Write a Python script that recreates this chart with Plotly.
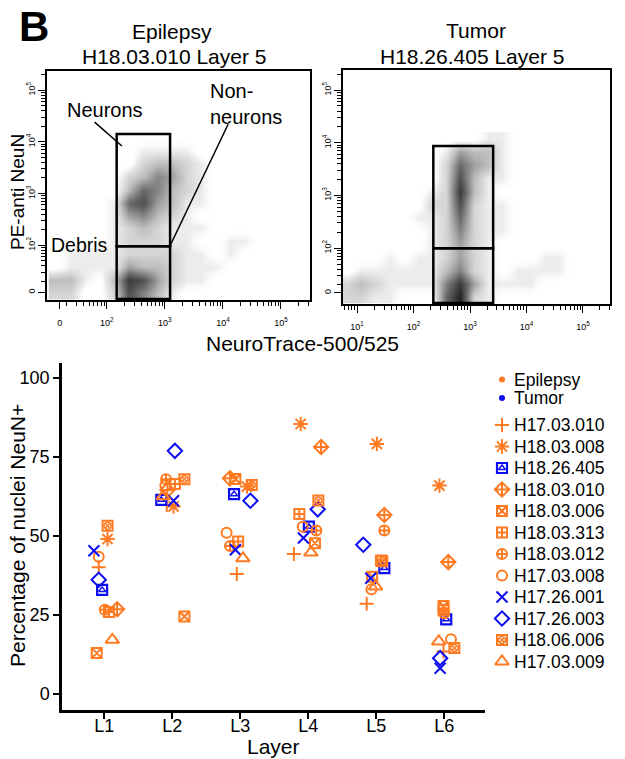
import numpy as np
import plotly.graph_objects as go

FONT = "Liberation Sans, Arial, Helvetica, sans-serif"
ORANGE = "#FF7A21"
BLUE = "#0C0CF2"
W, H = 625, 759          # target picture
OFF = 8                  # page body margin of the browser
FW, FH = W - OFF, H - OFF

# ---------------- bottom panel data ----------------
layer_labels = ["L1", "L2", "L3", "L4", "L5", "L6"]
pct_ticks = [0, 25, 50, 75, 100]
group_names = ["Epilepsy", "Tumor"]

sample_names = ["H17.03.010", "H18.03.008", "H18.26.405", "H18.03.010",
                "H18.03.006", "H18.03.313", "H18.03.012", "H17.03.008",
                "H17.26.001", "H17.26.003", "H18.06.006", "H17.03.009"]
sample_groups = ["Epilepsy", "Epilepsy", "Tumor", "Epilepsy",
                 "Epilepsy", "Epilepsy", "Epilepsy", "Epilepsy",
                 "Tumor", "Tumor", "Epilepsy", "Epilepsy"]

# jittered layer positions (1 = L1 ... 6 = L6) and % NeuN+ per sample
pos_H17_03_010 = [0.92, 1.92, 2.95, 3.79, 4.86, 5.99]
pct_H17_03_010 = [40.1, 59.8, 37.9, 44.3, 28.5, 13.4]
pos_H18_03_008 = [1.05, 2.02, 3.10, 3.89, 5.01, 5.93]
pct_H18_03_008 = [49.0, 59.3, 65.6, 85.4, 79.1, 65.9]
pos_H18_26_405 = [0.97, 1.84, 2.91, 4.01, 5.12, 6.03]
pct_H18_26_405 = [32.9, 61.4, 63.2, 52.9, 39.8, 23.6]
pos_H18_03_010 = [1.19, 1.93, 2.85, 4.19, 5.12, 6.06]
pct_H18_03_010 = [26.8, 64.5, 68.2, 78.1, 56.6, 41.7]
pos_H18_03_006 = [0.89, 2.18, 2.93, 4.10, 4.94, 5.99]
pct_H18_03_006 = [12.9, 24.5, 68.0, 47.7, 37.1, 27.8]
pos_H18_03_313 = [1.07, 2.04, 2.97, 3.87, 5.07, 5.99]
pct_H18_03_313 = [25.9, 66.4, 48.2, 56.9, 42.2, 26.5]
pos_H18_03_012 = [1.01, 1.91, 2.85, 4.12, 5.12, 6.00]
pct_H18_03_012 = [26.6, 67.9, 46.8, 51.7, 51.7, 25.5]
pos_H17_03_008 = [0.92, 1.90, 2.80, 3.92, 4.93, 6.10]
pct_H17_03_008 = [43.4, 66.0, 51.0, 52.9, 33.1, 17.3]
pos_H17_26_001 = [0.85, 2.02, 2.93, 3.93, 4.92, 5.94]
pct_H17_26_001 = [45.3, 61.1, 45.6, 49.3, 36.6, 8.1]
pos_H17_26_003 = [0.92, 2.04, 3.15, 4.14, 4.81, 5.94]
pct_H17_26_003 = [36.1, 76.9, 61.1, 58.4, 47.2, 11.3]
pos_H18_06_006 = [1.05, 2.18, 3.17, 4.15, 5.09, 6.15]
pct_H18_06_006 = [53.2, 67.9, 66.1, 61.2, 42.0, 14.5]
pos_H17_03_009 = [1.12, 1.87, 3.04, 4.04, 4.99, 5.92]
pct_H17_03_009 = [17.1, 62.5, 42.9, 44.7, 34.0, 16.6]

sample_pos = [pos_H17_03_010, pos_H18_03_008, pos_H18_26_405, pos_H18_03_010,
              pos_H18_03_006, pos_H18_03_313, pos_H18_03_012, pos_H17_03_008,
              pos_H17_26_001, pos_H17_26_003, pos_H18_06_006, pos_H17_03_009]
sample_pct = [pct_H17_03_010, pct_H18_03_008, pct_H18_26_405, pct_H18_03_010,
              pct_H18_03_006, pct_H18_03_313, pct_H18_03_012, pct_H17_03_008,
              pct_H17_26_001, pct_H17_26_003, pct_H18_06_006, pct_H17_03_009]

# ---------------- flow cytometry panels (density) ----------------
# display units: decades of the (biexponential) axes; rows bottom -> top, digits = dot density 0-9
epi_x0, epi_y0, bin_w = 1.0, 0.95, 0.25
epi_density = [
    "220027531000000",
    "331038742110000",
    "011114332111000",
    "011112222110100",
    "000012221100110",
    "000012321110000",
    "000014532100000",
    "000016743110000",
    "000003653210000",
    "000002354210000",
    "000000233210000",
    "000000111100000",
    "000000000000000",
]
tum_x0, tum_y0 = 0.7, 0.95
tum_density = [
    "22110006921000000",
    "23211115841111000",
    "01111113521011110",
    "00010112421000110",
    "00000012421000000",
    "00000012521100000",
    "00000112621100000",
    "00000022721100000",
    "00000012831000000",
    "00000002731100000",
    "00000002643100000",
    "00000001433100000",
    "00000000001100000",
]
epi_gate_x = [2.17, 3.09]
epi_gate_y = [0.96, 1.98, 4.15]
tum_gate_x = [2.35, 3.41]
tum_gate_y = [0.96, 2.00, 3.94]

epi_xtick_pos = [1.19, 2, 3, 4, 5]
epi_ytick_pos = [1.09, 2, 3, 4, 5]
tum_xtick_pos = [1, 2, 3, 4, 5]
tum_ytick_pos = [1.15, 2, 3, 4, 5]
epi_tick_text = ["0", "10<sup>2</sup>", "10<sup>3</sup>", "10<sup>4</sup>", "10<sup>5</sup>"]
tum_xtick_text = ["10<sup>1</sup>", "10<sup>2</sup>", "10<sup>3</sup>", "10<sup>4</sup>", "10<sup>5</sup>"]


def P(px, py):
    """picture pixel -> paper fraction of the figure (figure sits OFF px inside the page)."""
    return (px - OFF) / FW, 1 - (py - OFF) / FH


def minor_vals(lo, hi, decades):
    v = []
    for d in decades:
        for m in range(2, 10):
            t = d + np.log10(m)
            if lo < t < hi:
                v.append(float(t))
    return v


fig = go.Figure()

gray_scale = [[0.0, "rgba(255,255,255,0)"], [0.11, "rgb(236,236,236)"],
              [0.33, "rgb(190,190,190)"], [0.66, "rgb(105,105,105)"], [1.0, "rgb(35,35,35)"]]

fig.add_trace(go.Heatmap(z=[[int(c) for c in r] for r in epi_density],
                         x0=epi_x0 + bin_w / 2, dx=bin_w, y0=epi_y0 + bin_w / 2, dy=bin_w,
                         zmin=0, zmax=9, zsmooth="best", colorscale=gray_scale,
                         showscale=False, xaxis="x", yaxis="y", hoverinfo="skip"))
fig.add_trace(go.Heatmap(z=[[int(c) for c in r] for r in tum_density],
                         x0=tum_x0 + bin_w / 2, dx=bin_w, y0=tum_y0 + bin_w / 2, dy=bin_w,
                         zmin=0, zmax=9, zsmooth="best", colorscale=gray_scale,
                         showscale=False, xaxis="x2", yaxis="y2", hoverinfo="skip"))

# ---------------- scatter markers ----------------
marker_specs = [
    [("cross-thin-open", 10, 2.0)],
    [("asterisk-open", 12, 2.0)],
    [("square-open", 10, 2.2), ("triangle-up-open", 6, 1.5)],
    [("diamond-cross-open", 11, 2.0)],
    [("square-x-open", 10, 2.0)],
    [("square-cross-open", 10, 2.0)],
    [("circle-cross-open", 10, 2.0)],
    [("circle-open", 10, 2.0)],
    [("x-thin-open", 11, 2.0)],
    [("diamond-open", 11, 2.0)],
    [("square-open", 10, 2.0), ("circle-x-open", 7, 1.5)],
    [("triangle-up-open", 12, 2.0)],
]
group_color = {"Epilepsy": ORANGE, "Tumor": BLUE}

for name, grp, xs, ys, spec in zip(sample_names, sample_groups, sample_pos, sample_pct, marker_specs):
    col = group_color[grp]
    for sym, size, lw in spec:
        fig.add_trace(go.Scatter(x=xs, y=ys, mode="markers", name=name, showlegend=False,
                                 marker=dict(symbol=sym, size=size, color=col,
                                             line=dict(color=col, width=lw)),
                                 xaxis="x3", yaxis="y3"))

# ---------------- manual legend (auxiliary axis in picture-pixel units) ----------------
leg_left, leg_top = 490, 345
leg_x_marker, leg_x_text = 12, 23
grp_y0, grp_step = 379.5, 18.5
smp_y0, smp_step = 425, 21.5
for i, g in enumerate(group_names):
    yy = grp_y0 + i * grp_step
    fig.add_trace(go.Scatter(x=[leg_x_marker], y=[yy], mode="markers", showlegend=False,
                             marker=dict(symbol="circle", size=6, color=group_color[g]),
                             xaxis="x4", yaxis="y4", hoverinfo="skip"))
    fig.add_annotation(x=leg_x_text, y=yy, xref="x4", yref="y4", text=g, showarrow=False,
                       xanchor="left", yanchor="middle", font=dict(size=17.5, color="black"),
                       borderpad=0)
for i, (name, grp, spec) in enumerate(zip(sample_names, sample_groups, marker_specs)):
    yy = smp_y0 + i * smp_step
    col = group_color[grp]
    for sym, size, lw in spec:
        fig.add_trace(go.Scatter(x=[leg_x_marker], y=[yy], mode="markers", showlegend=False,
                                 marker=dict(symbol=sym, size=size, color=col,
                                             line=dict(color=col, width=lw)),
                                 xaxis="x4", yaxis="y4", hoverinfo="skip"))
    fig.add_annotation(x=leg_x_text, y=yy, xref="x4", yref="y4", text=name, showarrow=False,
                       xanchor="left", yanchor="middle", font=dict(size=17.5, color="black"),
                       borderpad=0)

# ---------------- axes ----------------
flow_common = dict(showline=True, mirror=True, linecolor="black", linewidth=1.5,
                   ticks="outside", ticklen=7, tickwidth=1, tickcolor="black",
                   showgrid=False, zeroline=False, tickmode="array",
                   tickfont=dict(size=9, color="black"), automargin=False, fixedrange=True)
minor_common = dict(tickmode="array", ticklen=4, ticks="outside", tickcolor="black", tickwidth=1)

epi_xr = [0.97, 5.5]
epi_yr = [0.94, 5.37]
tum_xr = [0.75, 5.48]
tum_yr = [0.94, 5.38]

x0p, _ = P(47, 0); x1p, _ = P(310, 0)
_, yt = P(0, 71); _, yb = P(0, 300)
fig.update_layout(
    xaxis=dict(domain=[x0p, x1p], range=epi_xr, anchor="y", tickvals=epi_xtick_pos,
               ticktext=epi_tick_text, ticklabelstandoff=6,
               minor=dict(tickvals=minor_vals(1.19, 5.5, [1, 2, 3, 4, 5]), **minor_common),
               **flow_common),
    yaxis=dict(domain=[yb, yt], range=epi_yr, anchor="x", tickvals=epi_ytick_pos,
               ticktext=epi_tick_text, tickangle=-90, ticklabelstandoff=0,
               minor=dict(tickvals=minor_vals(1.09, 5.37, [1, 2, 3, 4, 5]), **minor_common),
               **flow_common),
)
x0p, _ = P(343, 0); x1p, _ = P(610, 0)
_, yt = P(0, 70); _, yb = P(0, 304)
fig.update_layout(
    xaxis2=dict(domain=[x0p, x1p], range=tum_xr, anchor="y2", tickvals=tum_xtick_pos,
                ticktext=tum_xtick_text, ticklabelstandoff=6,
                minor=dict(tickvals=minor_vals(0.75, 5.48, [0, 1, 2, 3, 4, 5]), **minor_common),
                **flow_common),
    yaxis2=dict(domain=[yb, yt], range=tum_yr, anchor="x2", tickvals=tum_ytick_pos,
                ticktext=epi_tick_text, tickangle=-90, ticklabelstandoff=0,
                minor=dict(tickvals=minor_vals(1.15, 5.38, [1, 2, 3, 4, 5]), **minor_common),
                **flow_common),
)

x0p, _ = P(62, 0); x1p, _ = P(485, 0)
_, yt = P(0, 363); _, yb = P(0, 710)
main_common = dict(showline=True, linecolor="black", linewidth=2.5, ticks="outside",
                   ticklen=6, tickwidth=2, tickcolor="black", showgrid=False, zeroline=False,
                   tickfont=dict(size=18, color="black"), automargin=False, fixedrange=True,
                   tickmode="array")
lx0, _ = P(leg_left, 0)
_, ly1 = P(0, leg_top)
fig.update_layout(
    xaxis3=dict(domain=[x0p, x1p], range=[0.38, 6.6], anchor="y3",
                tickvals=list(range(1, len(layer_labels) + 1)), ticktext=layer_labels,
                ticklabelstandoff=-8, **main_common),
    yaxis3=dict(domain=[yb, yt], range=[-5.1, 104.7], anchor="x3",
                tickvals=pct_ticks, ticktext=[str(v) for v in pct_ticks], **main_common),
    xaxis4=dict(domain=[lx0, 1.0], range=[0, W - leg_left], anchor="y4", visible=False,
                fixedrange=True),
    yaxis4=dict(domain=[0, ly1], range=[H, leg_top], anchor="x4", visible=False,
                fixedrange=True),
)

# ---------------- gates and labels on the flow plots ----------------
shapes = []
for xr_, yr_, xa, ya in [(epi_gate_x, epi_gate_y, "x", "y"), (tum_gate_x, tum_gate_y, "x2", "y2")]:
    for k in range(2):
        shapes.append(dict(type="rect", xref=xa, yref=ya, x0=xr_[0], x1=xr_[1],
                           y0=yr_[k], y1=yr_[k + 1], line=dict(color="black", width=2.5),
                           layer="above"))
# pointer lines (left flow plot, axis units)
shapes.append(dict(type="line", xref="x", yref="y", x0=1.79, y0=4.38, x1=2.26, y1=3.92,
                   line=dict(color="black", width=1.5), layer="above"))
shapes.append(dict(type="line", xref="x", yref="y", x0=4.09, y0=4.34, x1=3.09, y1=1.99,
                   line=dict(color="black", width=1.5), layer="above"))
fig.update_layout(shapes=shapes)

ann = []
ann.append(dict(x=1.97, y=4.61, xref="x", yref="y", text="Neurons", showarrow=False,
                font=dict(size=20)))
ann.append(dict(x=3.74, y=4.74, xref="x", yref="y", text="Non-<br>neurons", showarrow=False,
                xanchor="left", align="left", font=dict(size=20)))
ann.append(dict(x=1.53, y=2.0, xref="x", yref="y", text="Debris", showarrow=False,
                font=dict(size=19.5)))


def pa(text, px, py, size, angle=0, bold=False):
    x, y = P(px, py)
    t = f"<b>{text}</b>" if bold else text
    return dict(x=x, y=y, xref="paper", yref="paper", text=t, showarrow=False,
                xanchor="center", yanchor="middle", textangle=angle, borderpad=0,
                font=dict(size=size, color="black"))


ann += [
    pa("B", 34, 27, 42, bold=True),
    pa("Epilepsy", 172, 31, 21),
    pa("H18.03.010 Layer 5", 174, 57, 21),
    pa("Tumor", 476, 30, 21),
    pa("H18.26.405 Layer 5", 472, 57, 21),
    pa("PE-anti NeuN", 17, 192, 19, angle=-90),
    pa("NeuroTrace-500/525", 302, 343, 21),
    pa("Percentage of nuclei NeuN+", 17, 536, 21, angle=-90),
    pa("Layer", 273, 746, 21),
]
for a in ann:
    fig.add_annotation(**a)

fig.update_layout(width=FW, height=FH, margin=dict(l=0, r=0, t=0, b=0), autosize=False,
                  paper_bgcolor="white", plot_bgcolor="rgba(0,0,0,0)",
                  font=dict(family=FONT, color="black"), showlegend=False)

fig.write_html("out.html")
